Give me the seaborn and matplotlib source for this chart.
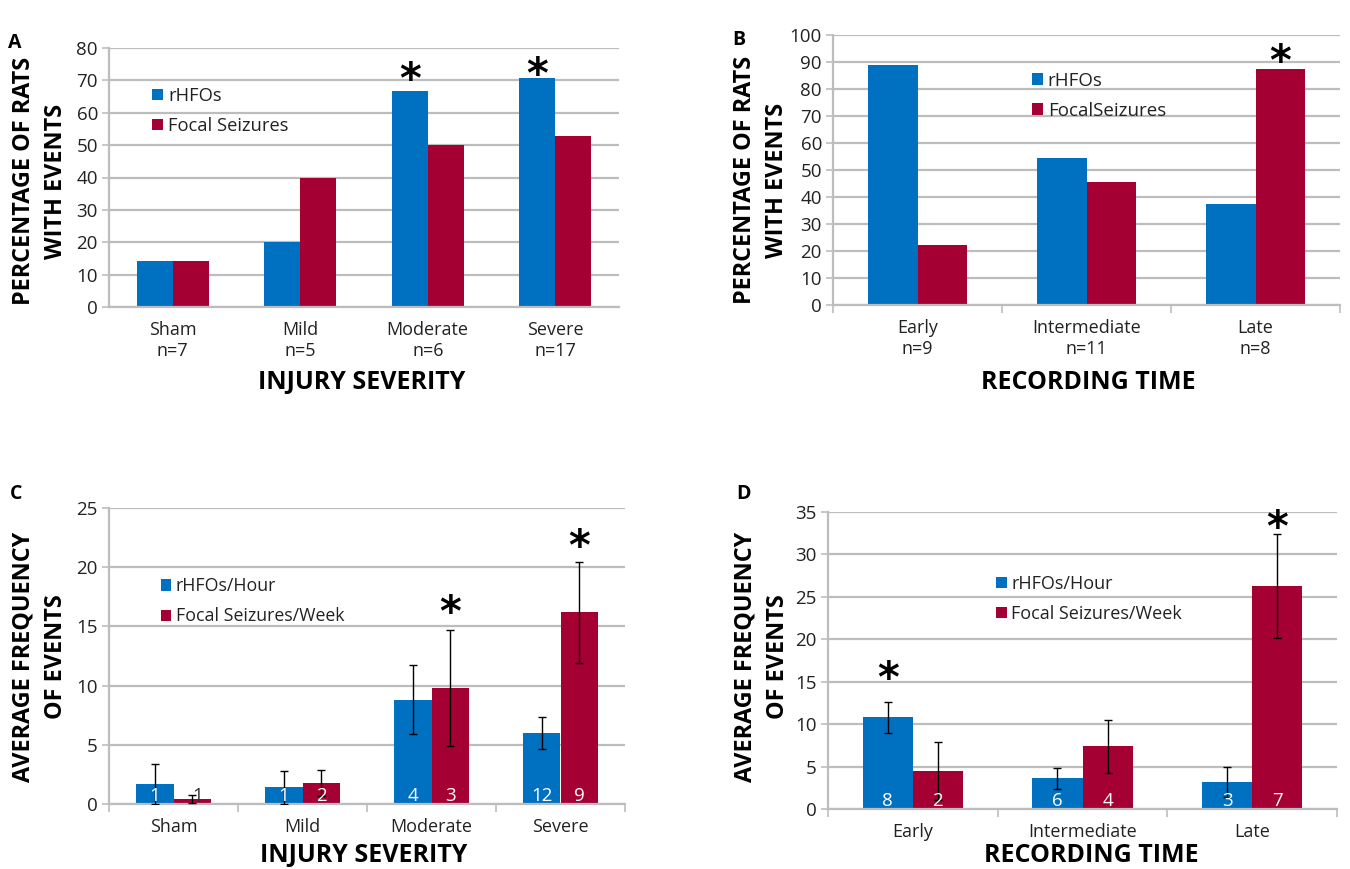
import matplotlib
matplotlib.use("Agg")
import matplotlib.pyplot as plt
import seaborn as sns
import pandas as pd
import numpy as np

sns.set_theme(style="white")
plt.rcParams['font.family'] = ['Open Sans', 'DejaVu Sans']

BLUE = "#0070C0"
RED = "#A50034"
GRID = "#BDBDBD"
TEXT = "#222222"

# Categories
severity = ["Sham", "Mild", "Moderate", "Severe"]
severity_n = [7, 5, 6, 17]
timing = ["Early", "Intermediate", "Late"]
timing_n = [9, 11, 8]

# A: percentage of rats with events by injury severity
pct_sev_rhfo = [14.3, 20.0, 66.7, 70.6]
pct_sev_seiz = [14.3, 40.0, 50.0, 52.9]

# B: percentage of rats with events by recording time
pct_time_rhfo = [88.9, 54.5, 37.5]
pct_time_seiz = [22.2, 45.5, 87.5]

# C: average frequency by injury severity (mean, error)
freq_sev_rhfo = [1.7, 1.4, 8.8, 6.0]
err_sev_rhfo = [1.7, 1.4, 2.9, 1.35]
freq_sev_seiz = [0.45, 1.8, 9.8, 16.2]
err_sev_seiz = [0.35, 1.1, 4.9, 4.25]
n_sev_rhfo = [1, 1, 4, 12]
n_sev_seiz = [1, 2, 3, 9]

# D: average frequency by recording time (mean, error)
freq_time_rhfo = [10.8, 3.6, 3.2]
err_time_rhfo = [1.8, 1.2, 1.8]
freq_time_seiz = [4.5, 7.4, 26.3]
err_time_seiz = [3.4, 3.1, 6.1]
n_time_rhfo = [8, 6, 3]
n_time_seiz = [2, 4, 7]

# Significance markers: (series index, category index, height)
stars_a = [(0, 2, 73.3), (0, 3, 74.8)]
stars_b = [(1, 2, 94.0)]
stars_c = [(1, 2, 17.0), (1, 3, 22.6)]
stars_d = [(0, 0, 16.6), (1, 2, 34.4)]

fig = plt.figure(figsize=(13.5, 8.69), dpi=100)
W, H = 1350.0, 869.0


def rect(x0, y_top, x1, y_bot):
    return [x0 / W, 1 - y_bot / H, (x1 - x0) / W, (y_bot - y_top) / H]


def ftext(x, y, s, **kw):
    fig.text(x / W, 1 - y / H, s, **kw)


def panel(ax, cats, series, values, ymax, ystep, legend_xy, width,
          legend_size=12.5, errors=None, counts=None, stars=(),
          boundary_ticks=True):
    df = pd.DataFrame({
        "cat": [c for _ in series for c in cats],
        "series": [s for s in series for _ in cats],
        "value": [v for vals in values for v in vals],
    })
    sns.barplot(data=df, x="cat", y="value", hue="series", order=cats,
                hue_order=series, palette=[BLUE, RED], saturation=1,
                width=width, errorbar=None, linewidth=0, ax=ax)
    ax.set_ylim(0, ymax)
    ax.set_xlim(-0.5, len(cats) - 0.5)
    ax.set_yticks(np.arange(0, ymax + ystep / 2, ystep))
    ax.set_xlabel("")
    ax.set_ylabel("")
    ax.yaxis.grid(True, color=GRID, lw=1.6)
    ax.set_axisbelow(True)
    for sp in ["top", "right"]:
        ax.spines[sp].set_visible(False)
    for sp in ["left", "bottom"]:
        ax.spines[sp].set_color(GRID)
        ax.spines[sp].set_linewidth(1.6)
    ax.tick_params(axis="y", which="major", length=5, width=1.2,
                   color=GRID, direction="out", labelsize=13.5,
                   labelcolor=TEXT, pad=3, left=True)
    ax.tick_params(axis="x", which="major", length=0, labelsize=13,
                   labelcolor=TEXT, pad=10)
    if boundary_ticks:
        ax.set_xticks(np.arange(-0.5, len(cats)), minor=True)
        ax.tick_params(axis="x", which="minor", length=6, width=1.2,
                       color=GRID, direction="out", bottom=True)

    centers = [[b.get_x() + b.get_width() / 2 for b in cont]
               for cont in ax.containers]

    if errors is not None:
        for k, errs in enumerate(errors):
            ax.errorbar(centers[k], values[k], yerr=errs, fmt="none",
                        ecolor="black", elinewidth=1.0, capsize=3,
                        capthick=1.0, zorder=5)

    if counts is not None:
        for k, ns in enumerate(counts):
            for i, n in enumerate(ns):
                short = values[k][i] < 1.0
                ax.annotate(str(n), (centers[k][i], 0),
                            xytext=(4 if short else 0, 2),
                            textcoords="offset points", ha="center",
                            va="baseline", fontsize=13.5,
                            color="#333333" if short else "white",
                            zorder=6)

    for k, i, y in stars:
        ax.annotate("*", (centers[k][i], y), xytext=(0, -17),
                    textcoords="offset points", ha="center",
                    va="baseline", fontsize=30, fontweight="bold",
                    color="black", family="DejaVu Sans")

    handles, labels = ax.get_legend_handles_labels()
    ax.legend(handles, labels, loc="upper left", bbox_to_anchor=legend_xy,
              frameon=False, fontsize=legend_size, handlelength=0.6,
              handleheight=0.6, handletextpad=0.25,
              labelspacing=0.7 * 12.5 / legend_size,
              borderpad=0, borderaxespad=0, labelcolor=TEXT)


sev_labels = [f"{c}\nn={n}" for c, n in zip(severity, severity_n)]
time_labels = [f"{c}\nn={n}" for c, n in zip(timing, timing_n)]

axA = fig.add_axes(rect(109, 48, 619, 307))
panel(axA, sev_labels, ["rHFOs", "Focal Seizures"],
      [pct_sev_rhfo, pct_sev_seiz], 80, 10, (0.085, 0.85), 0.565,
      legend_size=13.2, stars=stars_a, boundary_ticks=False)

axB = fig.add_axes(rect(833, 35, 1340, 305))
panel(axB, time_labels, ["rHFOs", "FocalSeizures"],
      [pct_time_rhfo, pct_time_seiz], 100, 10, (0.392, 0.864), 0.59,
      legend_size=13.5, stars=stars_b)

axC = fig.add_axes(rect(109, 508, 625, 804))
panel(axC, severity, ["rHFOs/Hour", "Focal Seizures/Week"],
      [freq_sev_rhfo, freq_sev_seiz], 25, 5, (0.1, 0.766), 0.58,
      legend_size=12.8, errors=[err_sev_rhfo, err_sev_seiz],
      counts=[n_sev_rhfo, n_sev_seiz], stars=stars_c)

axD = fig.add_axes(rect(828, 512, 1337, 809))
panel(axD, timing, ["rHFOs/Hour", "Focal Seizures/Week"],
      [freq_time_rhfo, freq_time_seiz], 35, 5, (0.33, 0.788), 0.59,
      legend_size=13, errors=[err_time_rhfo, err_time_seiz],
      counts=[n_time_rhfo, n_time_seiz], stars=stars_d)

bold = dict(fontweight="bold", color="black")
ylab = dict(rotation=90, ha="center", va="center", multialignment="center",
            fontsize=16.8, linespacing=1.45, **bold)

# Axis titles
ftext(40, 181, "PERCENTAGE OF RATS\nWITH EVENTS", **ylab)
ftext(761, 180, "PERCENTAGE OF RATS\nWITH EVENTS", **ylab)
ftext(40, 657, "AVERAGE FREQUENCY\nOF EVENTS", **ylab)
ftext(762, 657, "AVERAGE FREQUENCY\nOF EVENTS", **ylab)

for x, y, s in [(362, 382, "INJURY SEVERITY"), (1088, 382, "RECORDING TIME"),
                (364, 855, "INJURY SEVERITY"), (1091, 855, "RECORDING TIME")]:
    ftext(x, y, s, ha="center", va="center", fontsize=18, **bold)

# Panel letters
for x, y, s in [(15, 43, "A"), (739, 40, "B"), (16, 494, "C"), (744, 494, "D")]:
    ftext(x, y, s, ha="center", va="center", fontsize=14, **bold)

fig.savefig("out.png", dpi=100, facecolor="white")
